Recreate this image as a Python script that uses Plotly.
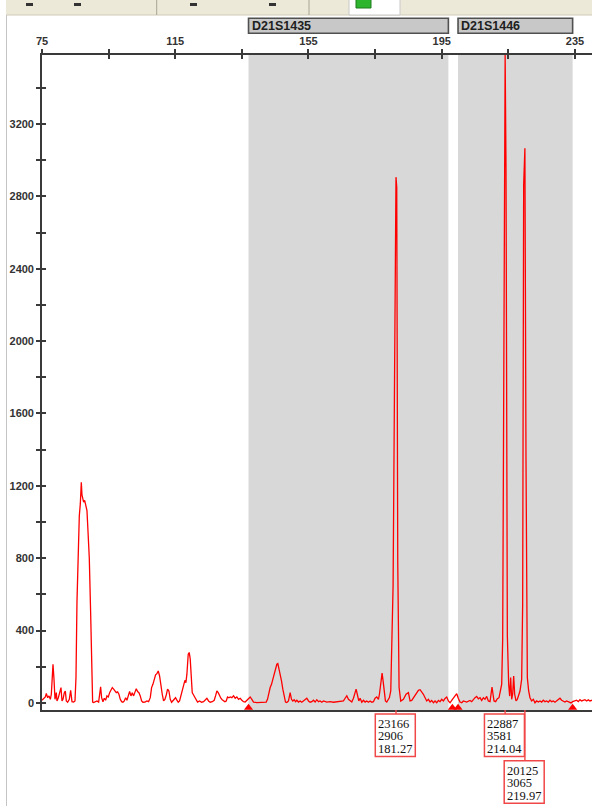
import plotly.graph_objects as go

# ---------------- data ----------------
size_bp = [
    75.0, 75.5, 76.0, 76.3, 76.7, 77.1, 77.5, 77.8, 78.1, 78.3, 78.6, 78.9, 79.3, 79.5, 79.9,
    80.3, 80.7, 81.0, 81.3, 81.7, 82.0, 82.3, 82.7, 83.2, 83.6, 84.0, 84.5, 84.9,
    85.2, 85.5, 85.8, 86.2, 86.5, 86.8, 87.0, 87.2, 87.5, 87.8, 88.1, 88.5, 88.8, 89.2, 89.6,
    89.8, 90.0, 90.2,
    90.5, 91.0, 91.5, 92.0, 92.3, 92.6, 92.9, 93.3, 93.7, 94.1, 94.5, 94.9, 95.3, 95.7, 96.1,
    96.5, 96.9, 97.3, 97.7, 98.1, 98.5, 98.9, 99.3, 99.7, 100.1, 100.5, 100.9, 101.3, 101.7,
    102.1, 102.5, 102.9, 103.3, 103.7, 104.1, 104.5, 104.9, 105.3, 105.9, 106.5, 107.0, 107.5,
    107.9, 108.3, 108.7, 109.1, 109.5, 109.9, 110.3, 110.7, 111.1, 111.5, 111.9, 112.3, 112.7,
    113.1, 113.5, 113.9, 114.3, 114.7, 115.1, 115.5, 115.9, 116.3, 116.7, 117.1, 117.5, 117.9,
    118.2, 118.5, 118.9, 119.2, 119.5, 119.8, 120.1, 120.5, 120.9, 121.3, 121.7, 122.3, 122.9,
    123.5, 124.1, 124.5, 125.0, 125.5, 126.1, 126.7, 127.1, 127.5, 127.9, 128.3, 128.7, 129.1,
    129.5, 129.9, 130.3, 130.7, 131.1,
    131.5, 132.0, 132.5, 133.0, 133.5, 134.0, 134.5, 135.0, 135.5, 136.0, 136.5, 137.0, 137.5,
    138.0, 138.5, 139.5, 140.5, 141.5, 142.3, 142.7, 143.1, 143.5, 143.9, 144.3, 144.7, 145.1,
    145.5, 145.8, 146.1, 146.5, 146.9, 147.3, 147.7, 148.1, 148.5, 149.0, 149.5, 149.9, 150.3,
    150.7, 151.1, 151.5, 152.0, 152.5, 153.0, 153.5, 154.0, 154.5, 155.0, 155.5, 156.0, 156.5,
    157.0, 157.5, 158.0, 158.5, 159.0, 159.5, 160.5, 161.5, 162.5, 163.5, 164.5, 165.5, 166.0,
    166.5, 167.0, 167.5, 168.0, 168.5, 169.0, 169.3, 169.7, 170.1, 170.5, 171.0, 171.5, 172.0,
    172.5, 173.0, 173.5, 174.0, 174.5, 175.0, 175.5, 176.0, 176.3, 176.7, 177.1, 177.4, 177.8,
    178.1, 178.5, 178.9,
    179.3, 179.7, 180.0, 180.4, 180.8, 181.27, 181.5, 181.8, 182.2, 182.7,
    183.5, 184.3, 185.0, 185.5, 186.0, 186.5, 187.0, 187.5, 188.0, 188.5, 189.0, 189.5, 190.0,
    190.5, 191.0, 191.5, 192.0, 192.5, 193.0, 193.5, 194.0, 194.5, 195.0, 195.5, 196.0, 196.5,
    197.0, 197.5, 198.0, 198.5, 199.0, 199.5, 200.0, 200.5, 201.0, 201.5, 202.5, 203.5, 204.0,
    204.5, 205.0, 205.5, 206.0, 206.5, 207.0, 207.5, 208.0, 208.5, 209.0, 209.5, 209.8, 210.1,
    210.4, 210.7, 211.2, 211.7, 212.2, 212.7, 213.0, 213.3, 213.6, 214.04, 214.3, 214.7, 215.1,
    215.4, 215.7, 216.0, 216.3, 216.6, 216.9, 217.3, 217.7, 218.1, 218.5, 219.0, 219.3, 219.6,
    219.97, 220.3, 220.7, 221.1, 221.5, 222.0, 222.5, 223.0, 223.5, 224.0,
    224.5, 225.0, 225.5, 226.0, 226.5, 227.0, 227.5, 228.0, 228.5, 229.0, 229.5, 230.0, 230.5,
    231.0, 231.5, 232.0, 232.5, 233.0, 233.5, 233.8, 234.3, 235.0, 235.5, 236.0, 236.5, 237.0,
    237.5, 238.0, 238.5, 239.0, 239.5, 240.1,
]
rfu = [
    15, 26, 33, 52, 29, 39, 20, 48, 150, 214, 131, 20, 57, 11, 29,
    66, 85, 11, 20, 57, 66, 11, 4, 20, 70, 7, 5, 11,
    140, 560, 770, 1035, 1100, 1220, 1150, 1137, 1110, 1120, 1100, 1063, 952, 800, 500,
    343, 122, 5,
    2, 5, 11, 5, 57, 89, 29, 7, 26, 15, 39, 33, 57, 76, 85,
    76, 66, 57, 61, 48, 20, 7, 4, 11, 29, 15, 39, 63, 39,
    57, 39, 66, 79, 63, 57, 39, 11, 4, 5, 11, 7, 29,
    85, 103, 131, 155, 162, 177, 149, 85, 48, 11, 20, 44, 76,
    66, 20, 4, 11, 20, 29, 15, 4, 11, 39, 66, 94, 125,
    112, 159, 269, 279, 242, 159, 57, 44, 29, 11, 5, 11, 4,
    7, 18, 26, 11, 4, 7, 15, 39, 66, 57, 39, 26, 18,
    11, 7, 11, 33, 29,
    33, 29, 39, 26, 33, 20, 26, 15, 7, 5, 15, 20, 33,
    20, 5, 2, 4, 2, 5, 20, 57, 85, 103, 131, 159, 186,
    214, 218, 196, 159, 122, 76, 29, 5, 2, 11, 57, 20, 11,
    18, 7, 15, 5, 11, 4, 11, 15, 26, 11, 4, 7, 15,
    5, 18, 7, 11, 4, 11, 5, 7, 4, 5, 7, 11, 26,
    39, 20, 11, 5, 26, 57, 76, 44, 11, 26, 4, 15, 5,
    11, 4, 11, 4, 7, 26, 33, 20, 48, 112, 165, 122, 39,
    11, 5, 15,
    30, 66, 297, 647, 1690, 2906, 2850, 777, 85, 10,
    20, 48, 57, 11, 14, 29, 48, 62, 70, 73, 62, 48, 29,
    11, 20, 5, 14, 1, 11, 1, 14, 7, 20, 11, 25, 33,
    11, 1, 14, 25, 38, 51, 25, 5, 1, 11, 5, 14, 7,
    20, 29, 36, 23, 29, 14, 29, 20, 36, 11, 7, 48, 88,
    48, 11, 7, 23, 29, 66, 103, 352, 2100, 3581, 2965, 371, 103,
    38, 140, 20, 48, 149, 48, 11, 20, 38, 66, 131, 546, 2862,
    3065, 1358, 140, 66, 29, 11, 20, 1, 11, 5,
    11, 5, 15, 7, 11, 4, 15, 7, 11, 4, 11, 20, 26,
    15, 11, 5, 11, 5, 0, 0, 7, 11, 15, 7, 18, 11,
    15, 18, 11, 17, 11, 15,
]

bin_names = ["D21S1435", "D21S1446"]
bin_start = [137.0, 199.9]
bin_end = [197.0, 234.3]
bin_marker_bp = [137.0, 198.2, 199.9, 234.3]

peak_size = [181.27, 214.04, 219.97]
peak_height = [2906, 3581, 3065]
peak_area = [23166, 22887, 20125]

x_tick_vals = [75, 95, 115, 135, 155, 175, 195, 215, 235]
x_tick_text = ["75", "", "115", "", "155", "", "195", "", "235"]
y_tick_vals = [0, 200, 400, 600, 800, 1000, 1200, 1400, 1600, 1800, 2000, 2200,
               2400, 2600, 2800, 3000, 3200, 3400]
y_tick_text = ["0", "", "400", "", "800", "", "1200", "", "1600", "", "2000", "",
               "2400", "", "2800", "", "3200", ""]

# ---------------- geometry ----------------
W, H = 592, 806
ML, MR, MT, MB = 42, 0, 55, 96
PW, PH = W - ML - MR, H - MT - MB
X0, X1 = 75, 75 + PW / 3.331
Y0, Y1 = -39, 3581
AXC = "#3a3a3a"
RED = "#FF0000"
BOXRED = "#F04848"
tick_font = dict(family="Liberation Sans, Arial", size=11, color="#333333", weight="bold")


def py2p(py):
    """pixel row (from top of figure) -> paper y"""
    return (H - MB - py) / PH


def px2p(px):
    return (px - ML) / PW


bp_per_px = (X1 - X0) / PW

fig = go.Figure()

fig.add_trace(go.Scatter(x=size_bp, y=rfu, mode="lines",
                         line=dict(color=RED, width=1.3),
                         showlegend=False, hoverinfo="skip"))

# bin boundary markers sitting on the bottom axis
tri_y = Y0 + 2.2 / PH * (Y1 - Y0)
fig.add_trace(go.Scatter(x=bin_marker_bp, y=[tri_y] * len(bin_marker_bp), mode="markers",
                         marker=dict(symbol="triangle-up", size=8, color=RED,
                                     line=dict(width=0)),
                         cliponaxis=False, showlegend=False, hoverinfo="skip"))

# dummy trace to carry the overlay axes (inside half of crossing ticks)
fig.add_trace(go.Scatter(x=[None], y=[None], xaxis="x2", yaxis="y2",
                         showlegend=False, hoverinfo="skip"))

shapes = []
annotations = []

# bin shaded areas and their name boxes
for name, s, e in zip(bin_names, bin_start, bin_end):
    shapes.append(dict(type="rect", xref="x", yref="paper", x0=s, x1=e, y0=0, y1=1,
                       fillcolor="#D8D8D8", line=dict(width=0), layer="below"))
    shapes.append(dict(type="rect", xref="x", yref="paper", x0=s, x1=e,
                       y0=py2p(33.3), y1=py2p(18.3),
                       fillcolor="#C8C8C8", line=dict(color="#505050", width=1.6)))
    annotations.append(dict(x=s, y=py2p(25.8), xref="x", yref="paper", text=name,
                            showarrow=False, xanchor="left", yanchor="middle", xshift=1,
                            font=dict(family="Liberation Sans, Arial", size=12.5,
                                      color="#202020", weight="bold")))

# peak label boxes
half_l, half_r = 20.7 * bp_per_px, 19.3 * bp_per_px
row_top_px = [714.0, 760.7]
box_h_px = 42.5
line_off_px = [9.8, 22.2, 35.3]
row_last_end = [None, None]
for area, hgt, sz in zip(peak_area, peak_height, peak_size):
    bx0, bx1 = sz - half_l, sz + half_r
    row = 0
    if row_last_end[0] is not None and bx0 < row_last_end[0]:
        row = 1
    row_last_end[row] = bx1
    top = row_top_px[row]
    shapes.append(dict(type="line", xref="x", yref="paper", x0=sz, x1=sz,
                       y0=0, y1=py2p(top), line=dict(color=BOXRED, width=1.4)))
    shapes.append(dict(type="rect", xref="x", yref="paper", x0=bx0, x1=bx1,
                       y0=py2p(top + box_h_px), y1=py2p(top),
                       fillcolor="rgba(255,255,255,0)", line=dict(color=BOXRED, width=1.5)))
    for txt, off in zip([str(area), str(hgt), f"{sz:.2f}"], line_off_px):
        annotations.append(dict(x=bx0, y=py2p(top + off), xref="x", yref="paper",
                                text=txt, showarrow=False, xanchor="left",
                                yanchor="middle", xshift=1.5, borderpad=0,
                                font=dict(family="Liberation Serif, Times New Roman",
                                          size=12.5, color="#111111")))

# window chrome: toolbar strip and left border
shapes.append(dict(type="rect", xref="paper", yref="paper", x0=px2p(6), x1=px2p(W),
                   y0=py2p(15), y1=py2p(0), fillcolor="#ECE9D8",
                   line=dict(width=0), layer="above"))
shapes.append(dict(type="line", xref="paper", yref="paper", x0=px2p(6), x1=px2p(W),
                   y0=py2p(15), y1=py2p(15), line=dict(color="#CFCBB8", width=1)))
for sx in [156.7, 309.0]:
    shapes.append(dict(type="line", xref="paper", yref="paper", x0=px2p(sx), x1=px2p(sx),
                       y0=py2p(15), y1=py2p(0), line=dict(color="#A9A593", width=1)))
shapes.append(dict(type="rect", xref="paper", yref="paper", x0=px2p(349), x1=px2p(400),
                   y0=py2p(15), y1=py2p(-2), fillcolor="#FFFFFF",
                   line=dict(color="#C8C8C8", width=1)))
shapes.append(dict(type="rect", xref="paper", yref="paper", x0=px2p(356), x1=px2p(371),
                   y0=py2p(8), y1=py2p(-2), fillcolor="#2DB52D",
                   line=dict(color="#1E7A1E", width=1)))
for mx in [26, 74, 190, 269]:
    shapes.append(dict(type="rect", xref="paper", yref="paper", x0=px2p(mx), x1=px2p(mx + 7),
                       y0=py2p(6), y1=py2p(3), fillcolor="#333333", line=dict(width=0)))
shapes.append(dict(type="line", xref="paper", yref="paper", x0=px2p(6.5), x1=px2p(6.5),
                   y0=py2p(H), y1=py2p(15), line=dict(color="#C4C4C4", width=1)))

fig.update_layout(
    width=W, height=H,
    margin=dict(l=ML, r=MR, t=MT, b=MB, pad=0),
    paper_bgcolor="white", plot_bgcolor="white",
    showlegend=False,
    xaxis=dict(range=[X0, X1], side="top", showline=True, linecolor=AXC, linewidth=2,
               mirror=True, ticks="outside", ticklen=4, tickwidth=1.5, tickcolor=AXC,
               tickvals=x_tick_vals, ticktext=x_tick_text, tickfont=tick_font,
               showgrid=False, zeroline=False, fixedrange=True),
    xaxis2=dict(range=[X0, X1], overlaying="x", side="top", showline=False,
                ticks="inside", ticklen=4, tickwidth=1.5, tickcolor=AXC,
                tickvals=x_tick_vals, showticklabels=False, showgrid=False,
                zeroline=False, fixedrange=True),
    yaxis=dict(range=[Y0, Y1], showline=True, linecolor=AXC, linewidth=1.6,
               ticks="outside", ticklen=4, tickwidth=1.5, tickcolor=AXC,
               tickvals=y_tick_vals, ticktext=y_tick_text, tickfont=tick_font,
               showgrid=False, zeroline=False, fixedrange=True),
    yaxis2=dict(range=[Y0, Y1], overlaying="y", side="left", showline=False,
                ticks="inside", ticklen=4, tickwidth=1.5, tickcolor=AXC,
                tickvals=y_tick_vals, showticklabels=False, showgrid=False,
                zeroline=False, fixedrange=True),
    shapes=shapes,
    annotations=annotations,
)

fig.write_html("out.html", config={"displayModeBar": False},
               post_script="document.body.style.margin='0';document.body.style.overflow='hidden';")
